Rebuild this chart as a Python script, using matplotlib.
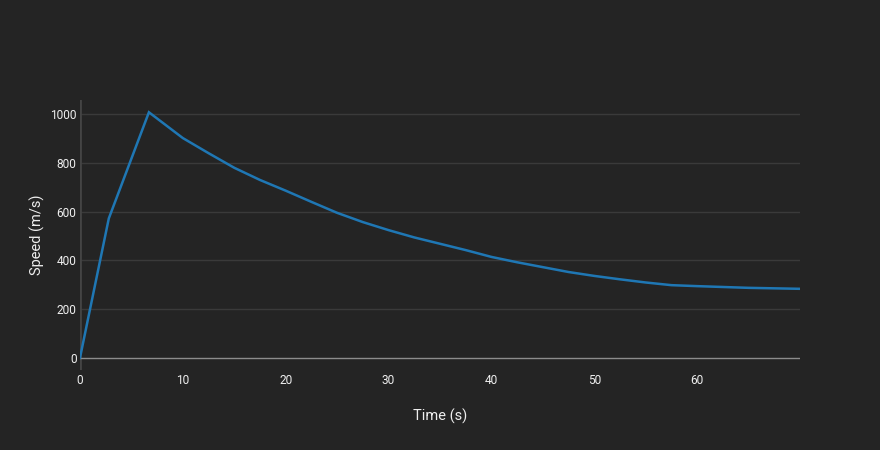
import matplotlib
matplotlib.use("Agg")
import matplotlib.pyplot as plt

# Data
time_s = [0, 2.8, 6.7, 10, 12.5, 15, 17.5, 20, 22.5, 25, 27.5, 30, 32.5, 35,
          37.5, 40, 42.5, 45, 47.5, 50, 52.5, 55, 57.5, 60, 65, 70]
speed_ms = [0, 572, 1008, 902, 840, 780, 730, 686, 640, 595, 557, 524, 494, 468,
            442, 414, 392, 372, 352, 336, 322, 309, 298, 294, 287, 283]
x_ticks = [0, 10, 20, 30, 40, 50, 60]
y_ticks = [0, 200, 400, 600, 800, 1000]
x_title = "Time (s)"
y_title = "Speed (m/s)"

BG = "#242424"
GRID = "#3a3a3a"
ZERO_H = "#8c8c8c"
ZERO_V = "#444444"
TXT = "#eeeeee"
LINE = "#1f77b4"

plt.rcParams["font.family"] = ["Roboto", "DejaVu Sans"]

W, H = 880, 450
fig = plt.figure(figsize=(W / 100, H / 100), dpi=100, facecolor=BG)
ax = fig.add_axes([80 / W, 80 / H, 720 / W, 270 / H], facecolor=BG)

ax.set_xlim(0, 70)
ax.set_ylim(-50.4, 1058.4)

for s in ax.spines.values():
    s.set_visible(False)

# horizontal gridlines
for yv in y_ticks[1:]:
    ax.axhline(yv, color=GRID, lw=1, zorder=0)
# zero lines
ax.axvline(0, color=ZERO_V, lw=2, zorder=1)
ax.axhline(0, color=ZERO_H, lw=1, zorder=1)

ax.plot(time_s, speed_ms, color=LINE, lw=1.8, zorder=3, solid_joinstyle="miter")

ax.set_xticks(x_ticks)
ax.set_yticks(y_ticks)
ax.tick_params(axis="both", length=0, colors=TXT, labelsize=8.6)
ax.tick_params(axis="x", pad=3)
ax.tick_params(axis="y", pad=2.5)

ax.set_xlabel(x_title, color=TXT, fontsize=10.5)
ax.set_ylabel(y_title, color=TXT, fontsize=10.5)
ax.xaxis.label.set_va("center")
ax.yaxis.label.set_va("center")
ax.xaxis.set_label_coords(0.5, (370 - 416) / 270)
ax.yaxis.set_label_coords((37 - 80) / 720, 0.5)

fig.savefig("out.png", dpi=100, facecolor=BG)
